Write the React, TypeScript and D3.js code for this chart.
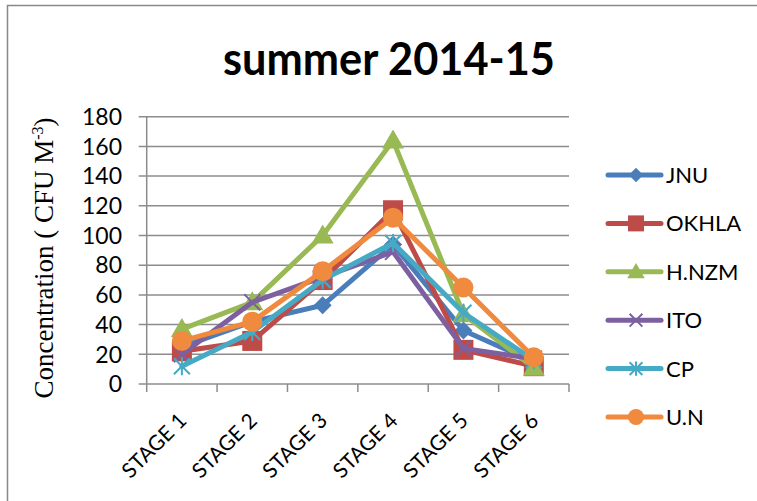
import React from "react";
import * as d3 from "d3";

const categories = ["STAGE 1", "STAGE 2", "STAGE 3", "STAGE 4", "STAGE 5", "STAGE 6"];
const seriesNames = ["JNU", "OKHLA", "H.NZM", "ITO", "CP", "U.N"];
const jnu = [25, 42, 53, 94, 36, 15];
const okhla = [22, 29, 70, 117, 23, 12];
const hnzm = [37, 55, 100, 164, 47, 11];
const ito = [20, 55, 72, 89, 24, 17];
const cp = [12, 35, 70, 95, 48, 16];
const un = [29, 42, 76, 112, 65, 18];
const yTicks = [0, 20, 40, 60, 80, 100, 120, 140, 160, 180];
const colors = ["#4A7EBB", "#BE4B48", "#98B954", "#7D60A0", "#46AAC5", "#F08A3E"];
const markers = ["diamond", "square", "triangle", "x", "asterisk", "circle"];

const allSeries = [jnu, okhla, hnzm, ito, cp, un];

function Marker({ type, x, y, color, s = 1 }: { type: string; x: number; y: number; color: string; s?: number }) {
  switch (type) {
    case "diamond":
      return <path d={`M${x},${y - 9 * s}L${x + 9 * s},${y}L${x},${y + 9 * s}L${x - 9 * s},${y}Z`} fill={color} />;
    case "square":
      return <rect x={x - 10 * s} y={y - 10 * s} width={20 * s} height={20 * s} fill={color} />;
    case "triangle":
      return <path d={`M${x},${y - 11 * s}L${x + 11 * s},${y + 8 * s}L${x - 11 * s},${y + 8 * s}Z`} fill={color} />;
    case "x":
      return (
        <path
          d={`M${x - 8 * s},${y - 8 * s}L${x + 8 * s},${y + 8 * s}M${x + 8 * s},${y - 8 * s}L${x - 8 * s},${y + 8 * s}`}
          stroke={color}
          strokeWidth={2}
        />
      );
    case "asterisk":
      return (
        <path
          d={`M${x - 8 * s},${y - 8 * s}L${x + 8 * s},${y + 8 * s}M${x + 8 * s},${y - 8 * s}L${x - 8 * s},${y + 8 * s}M${x},${y - 9 * s}L${x},${y + 9 * s}`}
          stroke={color}
          strokeWidth={2}
        />
      );
    default:
      return <circle cx={x} cy={y} r={10 * s} fill={color} />;
  }
}

export default function App() {
  const W = 757, H = 501;
  const left = 146.7, right = 569, top = 116.7, bottom = 384;
  const x = d3.scaleBand<string>().domain(categories).range([left, right]);
  const y = d3.scaleLinear().domain([0, 180]).range([bottom, top]);
  const line = d3
    .line<number>()
    .x((_, i) => (x(categories[i]) as number) + x.bandwidth() / 2)
    .y((d) => y(d));
  const font = "Lato, 'Open Sans', sans-serif";
  const grid = "#8c8c8c";

  return (
    <svg width={W} height={H} style={{ position: "absolute", left: 0, top: 0, background: "#fff" }}>
      <rect x={0} y={0} width={W} height={H} fill="#fff" />
      <rect x={7.5} y={5.5} width={W + 10} height={H + 10} fill="none" stroke="#888" strokeWidth={1.5} />
      <text x={389} y={75} textAnchor="middle" fontFamily={font} fontWeight="bold" fontSize={45} textLength={332} lengthAdjust="spacingAndGlyphs" fill="#000">
        summer 2014-15
      </text>
      {yTicks.map((t) => (
        <g key={t}>
          <line x1={left - 8} x2={right} y1={y(t)} y2={y(t)} stroke={grid} strokeWidth={1.5} />
          <text x={122} y={y(t)} dy="0.36em" textAnchor="end" fontFamily={font} fontSize={23} fill="#000">
            {t}
          </text>
        </g>
      ))}
      <line x1={left} x2={left} y1={top} y2={bottom} stroke={grid} strokeWidth={1.5} />
      {categories.map((c, i) => (
        <line key={"tk" + i} x1={x(c)} x2={x(c)} y1={bottom} y2={bottom + 8} stroke={grid} strokeWidth={1.5} />
      ))}
      <line x1={right} x2={right} y1={bottom} y2={bottom + 8} stroke={grid} strokeWidth={1.5} />
      {categories.map((c) => {
        const cx = (x(c) as number) + x.bandwidth() / 2;
        const ax = cx + 6, ay = bottom + 38;
        return (
          <text key={c} x={ax} y={ay} transform={`rotate(-45 ${ax} ${ay})`} textAnchor="end" fontFamily={font} fontSize={21} fill="#000">
            {c}
          </text>
        );
      })}
      <text
        transform={`translate(53 ${258}) rotate(-90)`}
        textAnchor="middle"
        fontFamily="'Liberation Serif', 'Times New Roman', serif"
        fontSize={27}
        fill="#000"
      >
        Concentration ( CFU M<tspan dy={-10} fontSize={16}>-3</tspan>
        <tspan dy={10}>)</tspan>
      </text>
      {allSeries.map((s, si) => (
        <g key={seriesNames[si]}>
          <path d={line(s) as string} fill="none" stroke={colors[si]} strokeWidth={5} strokeLinejoin="round" strokeLinecap="round" />
          {s.map((v, i) => (
            <Marker key={i} type={markers[si]} x={(x(categories[i]) as number) + x.bandwidth() / 2} y={y(v)} color={colors[si]} />
          ))}
        </g>
      ))}
      {seriesNames.map((n, i) => {
        const ly = 175 + i * 48.4;
        return (
          <g key={n}>
            <line x1={608} x2={661} y1={ly} y2={ly} stroke={colors[i]} strokeWidth={5} strokeLinecap="round" />
            <Marker type={markers[i]} x={636} y={ly} color={colors[i]} s={0.8} />
            <text x={666} y={ly} dy="0.36em" fontFamily={font} fontSize={22} fill="#000">
              {n}
            </text>
          </g>
        );
      })}
    </svg>
  );
}
